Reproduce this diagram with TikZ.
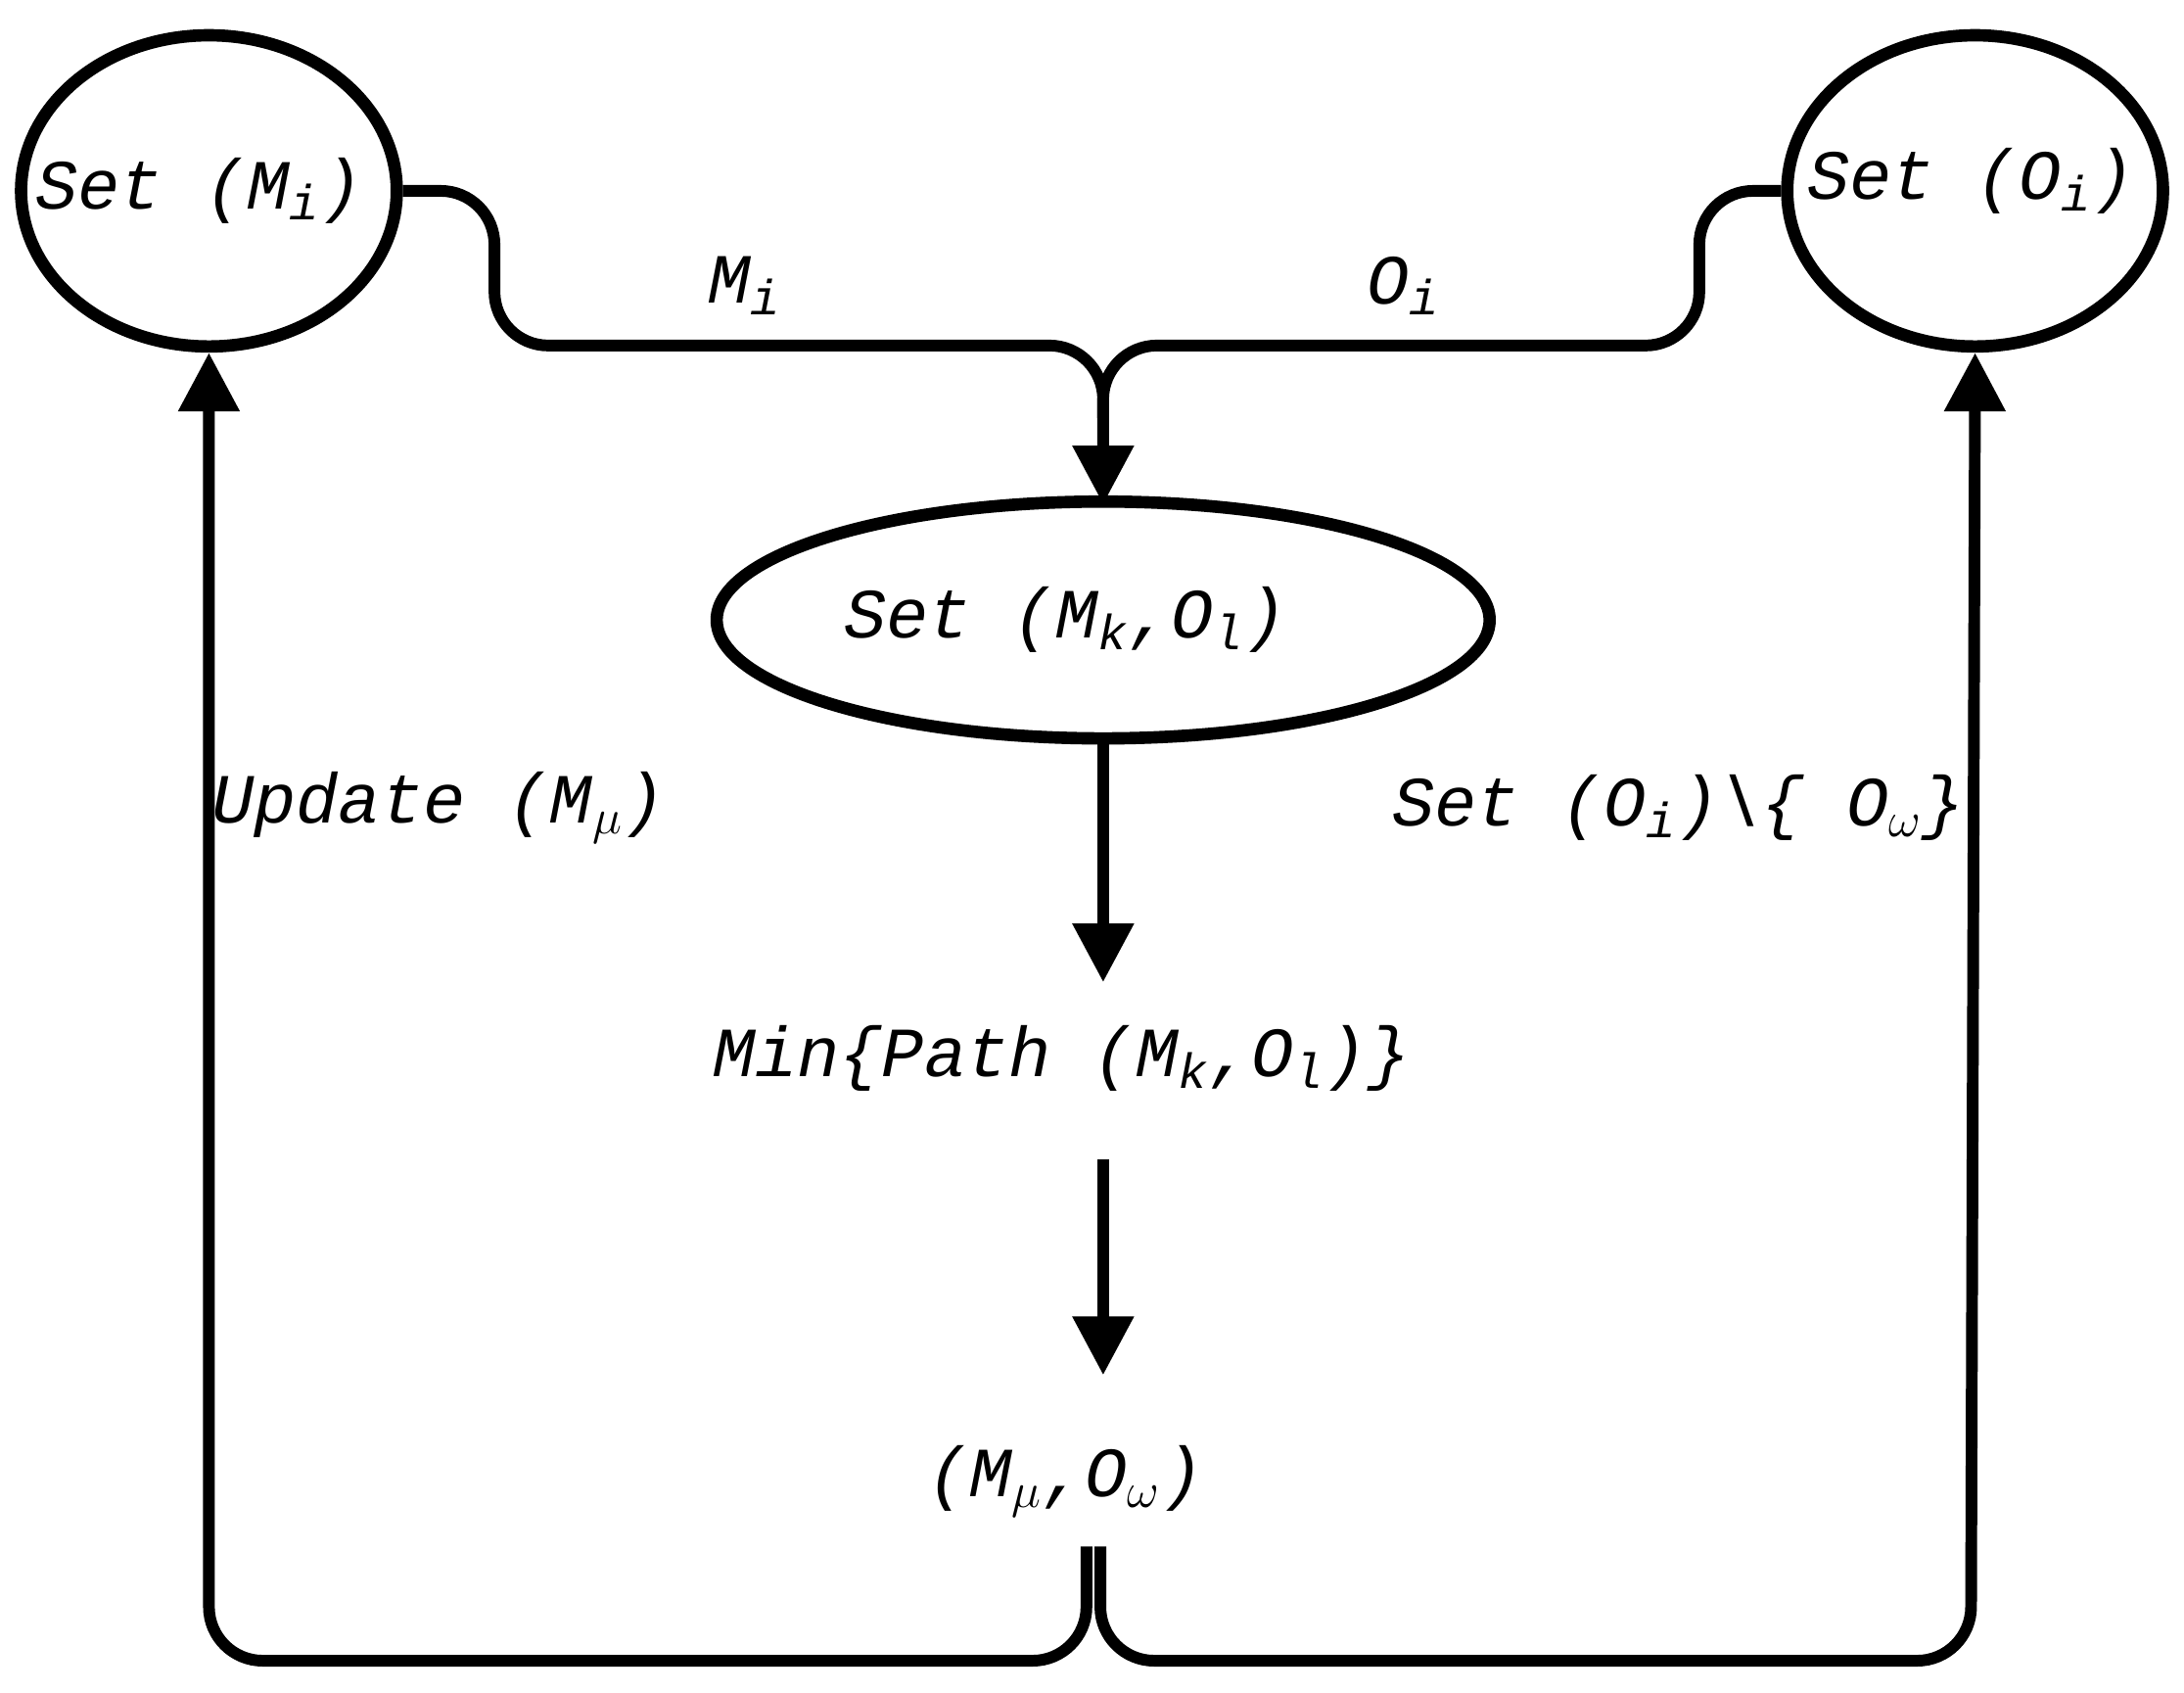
\documentclass[tikz,border=0pt]{standalone}
\usepackage{fontspec}
\setmainfont{Liberation Mono}
\usetikzlibrary{shapes.geometric,arrows.meta}
\begin{document}
\begin{tikzpicture}[x=0.01423cm,y=-0.01423cm,
  every node/.style={font=\fontsize{20.5}{25}\selectfont\itshape},
  shp/.style={draw,ellipse,line width=3.6pt,inner sep=0pt},
  ln/.style={line width=3.4pt,rounded corners=0.55cm},
  arr/.style={ln,-{Triangle[length=0.6cm,width=0.6cm]}}]
\useasboundingbox (0,0) rectangle (1568,1215);
\node[shp,minimum width=3.84cm,minimum height=3.18cm] (L) at (150,137) {};
\node at (143,137) {Set (M$_{\mathit{i}}$)};
\node[shp,minimum width=3.84cm,minimum height=3.18cm] (R) at (1418,137) {};
\node at (1415,130) {Set (O$_{\mathit{i}}$)};
\node[shp,minimum width=7.9cm,minimum height=2.42cm] (C) at (792,445) {};
\node at (765,445) {Set (M$_{\mathit{k}}$,O$_{\mathit{l}}$)};
\node (mi) at (535,205) {M$_{\mathit{i}}$};
\node (oi) at (1008,205) {O$_{\mathit{i}}$};
\node (min) at (762,760) {Min\{Path (M$_{\mathit{k}}$,O$_{\mathit{l}}$)\}};
\node (mo) at (765,1063) {(M$_{\mu}$,O$_{\omega}$)};
\node (up) at (315,580) {Update (M$_{\mu}$)};
\node (so) at (1205,580) {Set (O$_{\mathit{i}}$)\textbackslash\{ O$_{\omega}$\}};
\coordinate (top) at (792,362);
\draw[ln] (L.east) -- (355,137) -- (355,248) -- (792,248) -- (792,300);
\draw[arr] (R.west) -- (1220,137) -- (1220,248) -- (792,248) -- (top);
\draw[arr] (C.south) -- (792,705);
\draw[arr] (792,832) -- (792,987);
\draw[arr] (780,1110) -- (780,1192) -- (150,1192) -- (L.south);
\draw[arr] (790,1110) -- (790,1192) -- (1415,1192) -- (R.south);
\end{tikzpicture}
\end{document}
